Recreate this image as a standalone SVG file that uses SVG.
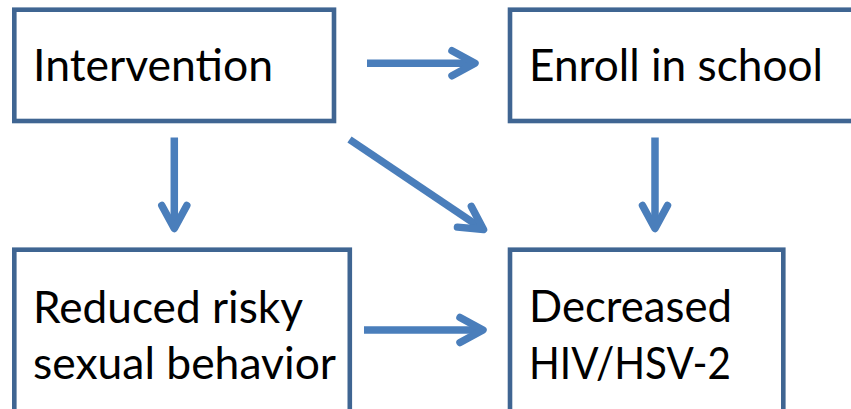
<svg xmlns="http://www.w3.org/2000/svg" width="851" height="409" viewBox="0 0 851 409">
<style>
.box{fill:#FFFFFF;stroke:#3F6592;stroke-width:4.6}
.lbl{font-family:Lato,"Liberation Sans",sans-serif;font-size:44px;fill:#000000}
.arr{fill:none;stroke:#4A7EBB;stroke-width:7.5;stroke-linecap:butt}
</style>
<defs>
<marker id="chev" markerUnits="userSpaceOnUse" orient="auto" markerWidth="40" markerHeight="40" refX="0" refY="0" overflow="visible">
<path d="M -23 -12.5 L 0 0 L -23 12.5" fill="none" stroke="#4A7EBB" stroke-width="7.5" stroke-linecap="round" stroke-linejoin="round"/>
</marker>
</defs>
<rect x="0" y="0" width="851" height="409" fill="#FFFFFF"/>
<g id="connectors">
<path class="arr" d="M 367 63.3 L 475 63.3" marker-end="url(#chev)"/>
<path class="arr" d="M 174.3 137.5 L 174.3 228.5" marker-end="url(#chev)"/>
<path class="arr" d="M 655 137.5 L 655 228.5" marker-end="url(#chev)"/>
<path class="arr" d="M 349.5 139.5 L 483.5 229.6" marker-end="url(#chev)"/>
<path class="arr" d="M 364 330 L 483 330" marker-end="url(#chev)"/>
</g>
<g id="intervention">
<rect class="box" x="14.3" y="9.7" width="319.7" height="111.3"/>
<text class="lbl" x="33" y="80.7" textLength="240" lengthAdjust="spacingAndGlyphs">Intervention</text>
</g>
<g id="enroll">
<rect class="box" x="510" y="9.7" width="360" height="111.3"/>
<text class="lbl" x="529" y="80.7" textLength="294" lengthAdjust="spacingAndGlyphs">Enroll in school</text>
</g>
<g id="reduced">
<rect class="box" x="14.3" y="249.7" width="335.5" height="180"/>
<text class="lbl" x="33" y="323.3" textLength="270" lengthAdjust="spacingAndGlyphs">Reduced risky</text>
<text class="lbl" x="33" y="379" textLength="303" lengthAdjust="spacingAndGlyphs">sexual behavior</text>
</g>
<g id="decreased">
<rect class="box" x="510" y="249.7" width="273.3" height="180"/>
<text class="lbl" x="529" y="322.3" textLength="203" lengthAdjust="spacingAndGlyphs">Decreased</text>
<text class="lbl" x="529" y="379" textLength="202" lengthAdjust="spacingAndGlyphs">HIV/HSV-2</text>
</g>
</svg>
